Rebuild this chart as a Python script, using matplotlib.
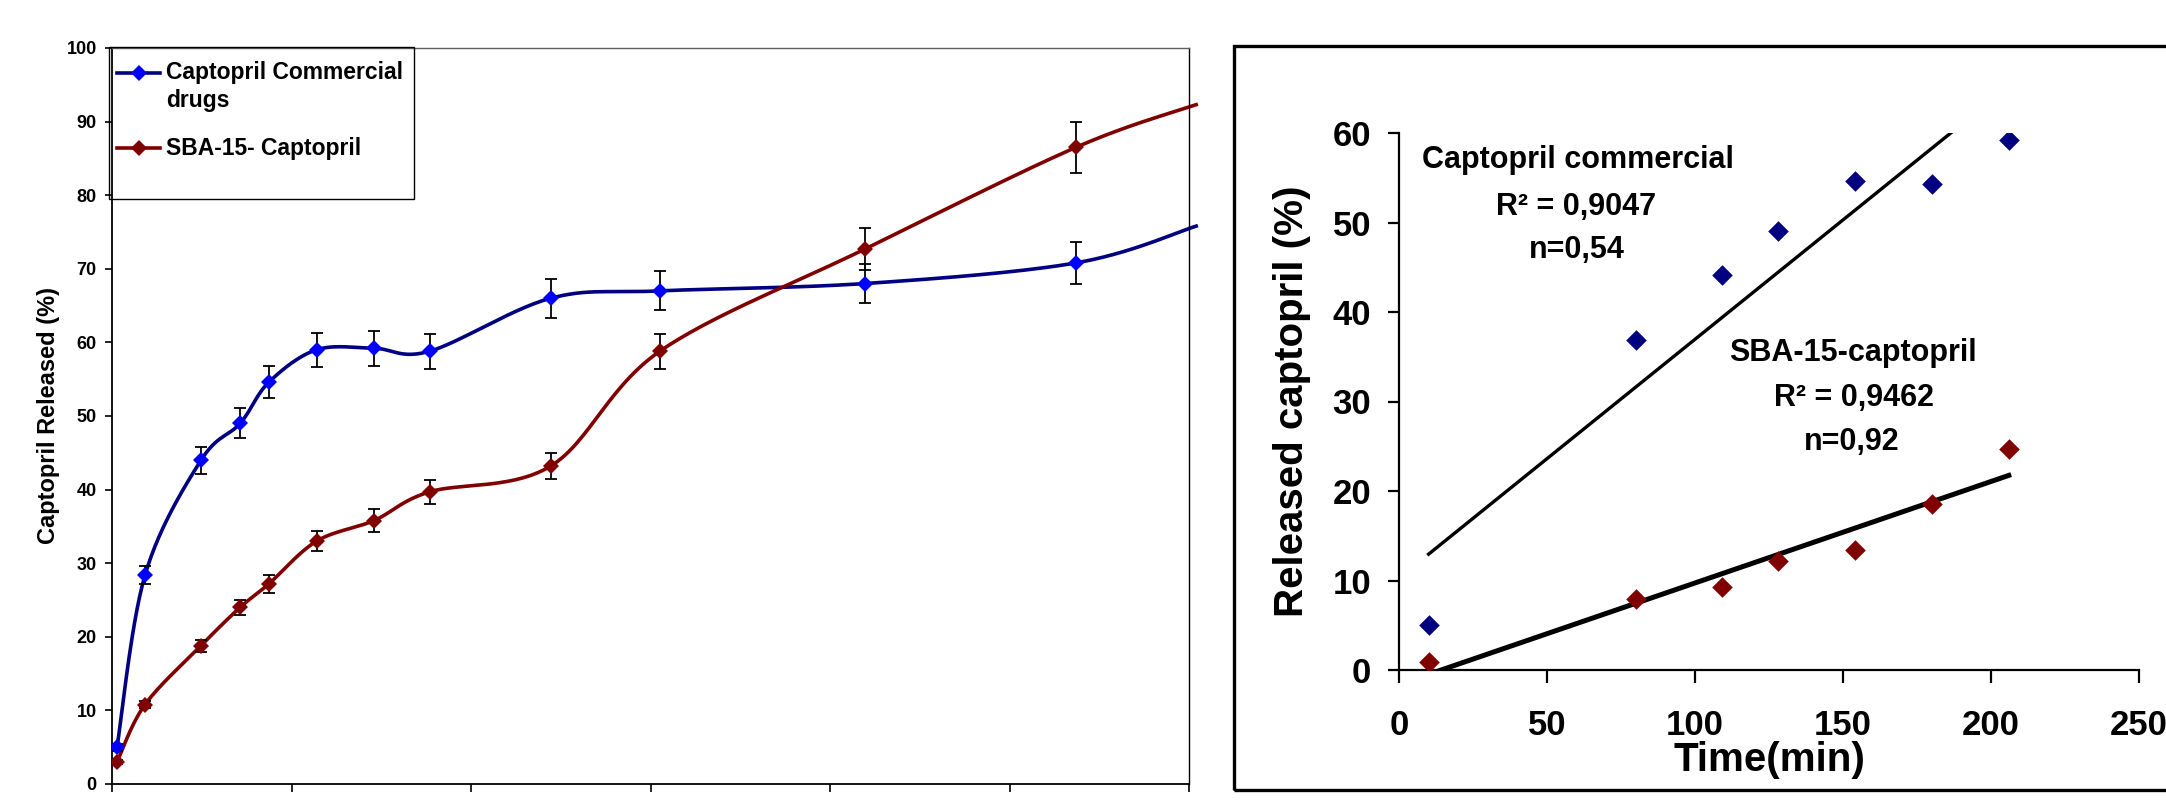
import numpy as np
import matplotlib.pyplot as plt
from matplotlib.lines import Line2D
from matplotlib.patches import Rectangle

plt.rcParams['font.family'] = ['Liberation Sans', 'DejaVu Sans']
plt.rcParams['font.weight'] = 'bold'

# === left panel: release profiles (mean +/- sd) ===
t_release = [1.4, 9.2, 24.8, 35.7, 43.7, 57, 73, 88.5, 122.2, 152.6, 209.8, 268.5]
commercial = [5.0, 28.4, 44.0, 49.0, 54.6, 59.0, 59.2, 58.8, 66.0, 67.0, 68.0, 70.8]
commercial_err = [0.5, 1.2, 1.85, 2.05, 2.2, 2.3, 2.35, 2.35, 2.65, 2.65, 2.7, 2.85]
sba = [3.0, 10.8, 18.8, 24.0, 27.2, 33.0, 35.8, 39.7, 43.2, 58.8, 72.7, 86.5]
sba_err = [0.3, 0.5, 0.83, 1.0, 1.2, 1.35, 1.5, 1.6, 1.75, 2.35, 2.9, 3.45]
# the smoothed curves run on a little past the frame
t_edge = 302
commercial_edge = 75.8
sba_edge = 92.3

# === right panel: kinetic fit ===
t_fit = [10, 80, 109, 128, 154, 180, 206]
fit_commercial = [5.0, 36.9, 44.1, 49.1, 54.6, 54.3, 59.2]
fit_sba = [0.9, 7.9, 9.3, 12.2, 13.4, 18.6, 24.7]

NAVY = '#000080'
BLUE = '#0000FF'
DRED = '#800000'

W, H = 2166, 800


def fx(px):
    return px / W


def fy(py):
    return 1 - py / H


def smooth(x, y, n=30):
    # Excel-like smoothed line (cubic Bezier through the points)
    p = np.column_stack([x, y]).astype(float)
    p = np.vstack([p[0], p, p[-1]])
    out = []
    t = np.linspace(0, 1, n)[:, None]
    for i in range(1, len(p) - 2):
        p0, p1, p2, p3 = p[i - 1], p[i], p[i + 1], p[i + 2]
        c1 = p1 + (p2 - p0) / 6
        c2 = p2 - (p3 - p1) / 6
        seg = (1 - t) ** 3 * p1 + 3 * (1 - t) ** 2 * t * c1 + 3 * (1 - t) * t ** 2 * c2 + t ** 3 * p2
        out.append(seg)
    out = np.vstack(out)
    return out[:, 0], out[:, 1]


fig = plt.figure(figsize=(21.66, 8), dpi=100)

# ---------------- left chart ----------------
ax1 = fig.add_axes([fx(112), fy(784), (1189 - 112) / W, (784 - 48) / H])

for yv, edge, lcol in [(commercial, commercial_edge, NAVY), (sba, sba_edge, DRED)]:
    sx, sy = smooth(list(t_release) + [t_edge], list(yv) + [edge])
    ax1.plot(sx, sy, color=lcol, lw=2.6, zorder=2, clip_on=False)

ax1.errorbar(t_release, commercial, yerr=commercial_err, fmt='none', ecolor='black',
             elinewidth=1.3, capsize=4, capthick=1.3, zorder=3)
ax1.errorbar(t_release, sba, yerr=sba_err, fmt='none', ecolor='black',
             elinewidth=1.3, capsize=4, capthick=1.3, zorder=3)
ax1.plot(t_release, commercial, 'D', color=BLUE, ms=8, mew=0, zorder=4)
ax1.plot(t_release, sba, 'D', color=DRED, ms=8, mew=0, zorder=4)

ax1.set_xlim(0, 300)
ax1.set_ylim(0, 100)
ax1.set_xticks(np.arange(0, 301, 50))
ax1.set_yticks(np.arange(0, 101, 10))
ax1.tick_params(axis='x', labelbottom=False, length=6, width=1.2, direction='out')
ax1.tick_params(axis='y', labelsize=13, length=5, width=1.2, pad=6, direction='out')
for s in ['left', 'bottom']:
    ax1.spines[s].set_linewidth(1.3)
ax1.spines['top'].set_color('#606060')
ax1.spines['top'].set_linewidth(1.0)
ax1.spines['right'].set_linewidth(1.0)
ax1.set_ylabel('Captopril Released (%)', fontsize=17, fontweight='bold')
ax1.yaxis.set_label_coords((60 - 112) / 1077, 0.5)

# legend box, drawn by hand so the marker sits on the first text line
fig.add_artist(Rectangle((fx(109), fy(199)), (414 - 109) / W, (199 - 47) / H,
                         transform=fig.transFigure, fill=False, ec='black', lw=1.0))
for yy, lcol, mcol in [(73, NAVY, BLUE), (148, DRED, DRED)]:
    fig.add_artist(Line2D([fx(117), fx(160)], [fy(yy), fy(yy)], transform=fig.transFigure,
                          color=lcol, lw=2.6))
    fig.add_artist(Line2D([fx(138.5)], [fy(yy)], transform=fig.transFigure, marker='D',
                          ms=8, mew=0, color=mcol))
fig.text(fx(166), fy(73), 'Captopril Commercial', fontsize=16.5, va='center', ha='left')
fig.text(fx(166), fy(100), 'drugs', fontsize=16.5, va='center', ha='left')
fig.text(fx(166), fy(148), 'SBA-15- Captopril', fontsize=16.5, va='center', ha='left')

# ---------------- right chart ----------------
fig.add_artist(Rectangle((fx(1234), fy(790)), (2200 - 1234) / W, (790 - 46) / H,
                         transform=fig.transFigure, fill=False, ec='black', lw=2.4,
                         clip_on=False))

ax2 = fig.add_axes([fx(1399), fy(670), (2139 - 1399) / W, (670 - 133) / H])
ax2.scatter(t_fit, fit_commercial, marker='D', s=110, color=NAVY, lw=0, zorder=4)
ax2.scatter(t_fit, fit_sba, marker='D', s=110, color=DRED, lw=0, zorder=4)

xx = np.array([t_fit[0], t_fit[-1]])
k1, b1 = np.polyfit(t_fit, fit_commercial, 1)
k2, b2 = np.polyfit(t_fit, fit_sba, 1)
ax2.plot(xx, k1 * xx + b1, color='black', lw=2.4, zorder=3)
ax2.plot(xx, k2 * xx + b2, color='black', lw=3.6, zorder=3)

ax2.set_xlim(0, 250)
ax2.set_ylim(0, 60)
ax2.set_xticks(np.arange(0, 251, 50))
ax2.set_yticks(np.arange(0, 61, 10))
ax2.spines['top'].set_visible(False)
ax2.spines['right'].set_visible(False)
for s in ['left', 'bottom']:
    ax2.spines[s].set_linewidth(1.6)
ax2.tick_params(axis='x', labelsize=25, length=9, width=1.6, pad=19, direction='out')
ax2.tick_params(axis='y', labelsize=25, length=8, width=1.6, pad=12, direction='out')
ax2.set_xlabel('Time(min)', fontsize=29, fontweight='bold')
ax2.xaxis.set_label_coords(0.5, (670 - 741) / 537)
ax2.set_ylabel('Released captopril (%)', fontsize=29, fontweight='bold')
ax2.yaxis.set_label_coords((1311 - 1399) / 740, 0.5)

ann = dict(fontsize=22, fontweight='bold', va='center')
ax2.text(7.8, 57.0, 'Captopril commercial', ha='left', **ann)
ax2.text(59.8, 51.7, 'R² = 0,9047', ha='center', **ann)
ax2.text(60.1, 46.9, 'n=0,54', ha='center', **ann)
ax2.text(111.5, 35.4, 'SBA-15-captopril', ha='left', **ann)
ax2.text(153.7, 30.4, 'R² = 0,9462', ha='center', **ann)
ax2.text(153.0, 25.5, 'n=0,92', ha='center', **ann)

fig.savefig('out.png', dpi=100)
